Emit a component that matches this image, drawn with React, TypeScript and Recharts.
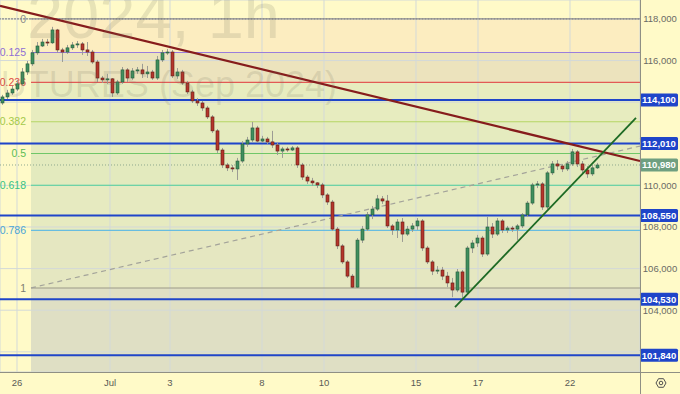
import { Bar, CartesianGrid, ComposedChart, ReferenceArea, ReferenceLine, XAxis, YAxis } from 'recharts';

// hourly bars (one entry per drawn candle)
const opens = [
    113960, 114250, 114440, 114630, 114880, 115450, 115840, 116370, 116700, 116890,
    116850, 117470, 116510, 116410, 116610, 116750, 116800, 116510, 116410, 115930,
    115160, 115070, 115120, 114440, 114970, 115550, 115160, 115500, 115550, 115360,
    115450, 115160, 116030, 116370, 116410, 115260, 115450, 114920, 114490, 114060,
    113960, 113720, 113290, 112620, 111700, 110980, 110840, 110790, 111170, 111990,
    112180, 112760, 112130, 112230, 112090, 111940, 111650, 111750, 111700, 111800,
    110980, 110400, 110210, 110120, 110020, 109540, 109200, 107900, 107090, 106320,
    105640, 105110, 107370, 107900, 108580, 108860, 109350, 109250, 108050, 107860,
    108240, 107660, 107900, 108050, 108290, 106990, 106320, 105880, 105930, 105640,
    105310, 104970, 105840, 104870, 106990, 107230, 107470, 106700, 108000, 107660,
    108290, 107860, 107950, 107900, 108050, 108580, 109150, 110020, 110070, 108960,
    110600, 111030, 110930, 110790, 111030, 111610, 111030, 110740, 110550, 110840,
];
const highs = [
    114350, 114590, 114780, 115070, 115640, 115980, 116510, 116890, 117040, 117040,
    117620, 117520, 116610, 116750, 116890, 116940, 116890, 116890, 116510, 116030,
    115260, 115360, 115160, 115070, 115690, 115640, 115640, 115690, 115840, 115740,
    115550, 116220, 116510, 116560, 116510, 115640, 115550, 115020, 114590, 114200,
    114060, 113820, 113380, 112710, 111800, 111080, 110980, 111320, 112130, 112330,
    113050, 112860, 112380, 112330, 112620, 112040, 111850, 111850, 111890, 111890,
    111080, 110500, 110360, 110160, 110120, 109630, 109300, 108000, 107180, 106410,
    105740, 107470, 108050, 108720, 109010, 109540, 109490, 109540, 108140, 108380,
    108430, 108050, 108190, 108430, 108380, 107090, 106410, 106120, 106080, 105840,
    105550, 105980, 105930, 107090, 107370, 107620, 107570, 108480, 108190, 108430,
    108380, 108050, 108050, 108140, 108670, 109250, 110120, 110210, 110160, 110690,
    111170, 111220, 111030, 111170, 111750, 111700, 111170, 110930, 110980, 111080,
];
const lows = [
    113870, 114150, 114350, 114540, 114780, 115310, 115740, 116270, 116650, 116700,
    116800, 116370, 115930, 116320, 116510, 116610, 116270, 116220, 115840, 114970,
    114920, 114880, 114250, 114350, 114880, 114970, 115070, 115360, 115160, 115160,
    115070, 115070, 115930, 116270, 115160, 115120, 114830, 114390, 113960, 113820,
    113580, 113190, 112520, 111560, 110840, 110690, 110640, 110260, 111080, 111850,
    112090, 112040, 112040, 111990, 111800, 111460, 111320, 111610, 111650, 110840,
    110260, 110070, 109970, 109870, 109390, 109060, 107810, 106940, 106220, 105550,
    105070, 105070, 107230, 107810, 108380, 108770, 109110, 107950, 107620, 107470,
    107280, 107570, 107760, 107860, 106850, 106220, 105690, 105740, 105450, 105110,
    104630, 104870, 104590, 104780, 106750, 107040, 106560, 106610, 107470, 107570,
    107710, 107710, 107760, 107370, 107950, 108480, 109060, 109870, 108820, 108860,
    110500, 110740, 110640, 110690, 110930, 110880, 110550, 110360, 110450, 110790,
];
const closes = [
    114250, 114440, 114630, 114880, 115450, 115840, 116370, 116700, 116890, 116850,
    117470, 116510, 116410, 116610, 116750, 116800, 116510, 116410, 115930, 115160,
    115070, 115120, 114440, 114970, 115550, 115160, 115500, 115550, 115360, 115450,
    115160, 116030, 116370, 116410, 115260, 115450, 114920, 114490, 114060, 113960,
    113720, 113290, 112620, 111700, 110980, 110840, 110790, 111170, 111990, 112180,
    112760, 112130, 112230, 112090, 111940, 111650, 111750, 111700, 111800, 110980,
    110400, 110210, 110120, 110020, 109540, 109200, 107900, 107090, 106320, 105640,
    105110, 107370, 107900, 108580, 108860, 109350, 109250, 108050, 107860, 108240,
    107660, 107900, 108050, 108290, 106990, 106320, 105880, 105930, 105640, 105310,
    104970, 105840, 104870, 106990, 107230, 107470, 106700, 108000, 107660, 108290,
    107860, 107950, 107900, 108050, 108580, 109150, 110020, 110070, 108960, 110600,
    111030, 110930, 110790, 111030, 111610, 111030, 110740, 110550, 110840, 110980,
];

const dayLabels = ['26', 'Jul', '3', '8', '10', '15', '17', '22'];
const dayTickBars = [2.9, 21.5, 33.5, 51.9, 64.3, 82.7, 95.1, 113.5];

const priceTicks = [102000, 104000, 106000, 108000, 110000, 112000, 114000, 116000, 118000];

// fib retracement anchors
const fibTop = 118000;
const fibBottom = 105070;
const fibStartBar = 5.7;
const fibRatios = [0, 0.125, 0.236, 0.382, 0.5, 0.618, 0.786, 1];
const fibLabels = ['0', '0.125', '0.236', '0.382', '0.5', '0.618', '0.786', '1'];

const keyLevels = [114100, 112010, 108550, 104530, 101840];
const lastPrice = 110980;

const resistanceLine = [{ x: -0.5, y: 118625 }, { x: 127.5, y: 111173 }];
const supportLine = [{ x: 90.5, y: 104150 }, { x: 126.7, y: 113240 }];
const fibTrendLine = [{ x: fibStartBar, y: fibBottom }, { x: 127.5, y: 111890 }];

const X_DOMAIN = [-0.5, 127.5];
const Y_DOMAIN = [101030, 118910];

const fibLineColors = ['#8c8c8c', '#9a7ddc', '#e25a55', '#b4d565', '#70c768', '#4dcf97', '#68bde0', '#9b9a88'];
const fibTextColors = ['#8c8c8c', '#8f6fd4', '#de4b47', '#a3c94a', '#5cbd55', '#36c385', '#4aa5d6', '#7d7d70'];
const fibBandColors = ['#fcedc0', '#ece3bd', '#e7ecbf', '#e5ebbf', '#e3eabe', '#e6eac0', '#e5e7c1', '#dfdfc4'];

const FONT = '"Liberation Sans", Arial, sans-serif';

const candles = opens.map((o, i) => ({
    i,
    o,
    h: highs[i],
    l: lows[i],
    c: closes[i],
    range: [lows[i], highs[i]],
}));

const fibPrices = fibRatios.map((r) => fibTop - r * (fibTop - fibBottom));

// axis price labels that sit under a tag are hidden, like the terminal does
const taggedPrices = [...keyLevels, lastPrice];
const isCovered = (v: number) => taggedPrices.some((p) => Math.abs(p - v) < 400);

const Candle = (props: any) => {
    const { x, y, width, height, payload } = props;
    const { o, h, l, c } = payload;
    const top = Math.min(y, y + height);
    const bottom = Math.max(y, y + height);
    const ppu = h === l ? 0 : (bottom - top) / (h - l);
    const bodyTop = top + (h - Math.max(o, c)) * ppu;
    const bodyBottom = top + (h - Math.min(o, c)) * ppu;
    const cx = x + width / 2;
    const up = c >= o;
    return (
        <g>
            <line x1={cx} x2={cx} y1={top} y2={bottom} stroke="#9c9c94" strokeWidth={1} />
            <rect
                x={x}
                y={bodyTop}
                width={width}
                height={Math.max(1, bodyBottom - bodyTop)}
                fill={up ? '#3f8f5e' : '#b5352b'}
                stroke={up ? '#245a3a' : '#5e1c15'}
                strokeWidth={0.6}
            />
        </g>
    );
};

const PriceTag = (props: any) => {
    const { viewBox, text, fill } = props;
    if (!viewBox) return null;
    const x0 = viewBox.x + viewBox.width;
    const yy = viewBox.y;
    return (
        <g>
            <rect x={x0} y={yy - 6.5} width={38} height={13} rx={1.5} fill={fill} />
            <text x={x0 + 19} y={yy + 3.4} textAnchor="middle" fill="#ffffff" fontSize={9.5} fontWeight={700} fontFamily={FONT}>
                {text}
            </text>
        </g>
    );
};

const FibTag = (props: any) => {
    const { viewBox, text, color } = props;
    if (!viewBox) return null;
    return (
        <text x={viewBox.x - 5} y={viewBox.y + 3.7} textAnchor="end" fill={color} fontSize={10.5} fontFamily={FONT}>
            {text}
        </text>
    );
};

const PriceTick = (props: any) => {
    const { y, payload } = props;
    if (isCovered(payload.value)) return null;
    return (
        <text x={660} y={y + 3.3} textAnchor="middle" fill="#6a6a66" fontSize={9.5} fontFamily={FONT}>
            {payload.value.toLocaleString('en-US')}
        </text>
    );
};

export default function App() {
    const bands = fibPrices.map((p, k) => ({
        y1: k + 1 < fibPrices.length ? fibPrices[k + 1] : Y_DOMAIN[0],
        y2: p,
        color: fibBandColors[k],
    }));

    return (
        <div style={{ position: 'absolute', left: 0, top: 0, width: 680, height: 394, background: '#fffac8', overflow: 'hidden' }}>
            <ComposedChart width={680} height={394} data={candles} margin={{ top: 0, right: 0, bottom: 0, left: 0 }}>
                {bands.map((b, k) => (
                    <ReferenceArea
                        key={`band-${k}`}
                        x1={fibStartBar}
                        x2={X_DOMAIN[1]}
                        y1={b.y1}
                        y2={b.y2}
                        fill={b.color}
                        fillOpacity={1}
                        stroke="none"
                        ifOverflow="hidden"
                    />
                ))}
                <CartesianGrid stroke="#d3d9d8" strokeWidth={1} zIndex={150} />
                <XAxis
                    dataKey="i"
                    type="number"
                    domain={X_DOMAIN}
                    allowDataOverflow
                    ticks={dayTickBars}
                    interval={0}
                    tickFormatter={(v: number) => dayLabels[dayTickBars.indexOf(v)] ?? ''}
                    height={22}
                    axisLine={false}
                    tickLine={false}
                    tickSize={0}
                    tickMargin={7}
                    tick={{ fontSize: 9.5, fill: '#5a5a56', fontFamily: FONT }}
                />
                <YAxis
                    orientation="right"
                    width={40}
                    domain={Y_DOMAIN}
                    allowDataOverflow
                    ticks={priceTicks}
                    interval={0}
                    axisLine={false}
                    tickLine={false}
                    tick={<PriceTick />}
                />
                {fibPrices.map((p, k) => (
                    <ReferenceLine
                        key={`fib-${k}`}
                        segment={[{ x: fibStartBar, y: p }, { x: X_DOMAIN[1], y: p }]}
                        stroke={fibLineColors[k]}
                        strokeWidth={k === 0 ? 1.2 : 1.1}
                        strokeDasharray={k === 0 ? '2 1' : undefined}
                        zIndex={200}
                        label={<FibTag text={fibLabels[k]} color={fibTextColors[k]} />}
                    />
                ))}
                <ReferenceLine y={fibTop} stroke="#8c8c8c" strokeDasharray="2 1" strokeWidth={1.2} zIndex={200} />
                <ReferenceLine
                    y={lastPrice}
                    stroke="#8fa88f"
                    strokeDasharray="1 2"
                    strokeWidth={1}
                    zIndex={210}
                    label={<PriceTag text={lastPrice.toLocaleString('en-US')} fill="#6f9f80" />}
                />
                {keyLevels.map((lv) => (
                    <ReferenceLine
                        key={`lv-${lv}`}
                        y={lv}
                        stroke="#1f45c9"
                        strokeWidth={2}
                        zIndex={250}
                        label={<PriceTag text={lv.toLocaleString('en-US')} fill="#1f45c9" />}
                    />
                ))}
                <ReferenceLine segment={fibTrendLine} stroke="#a3a39a" strokeWidth={1.2} strokeDasharray="5 4" zIndex={260} />
                <Bar dataKey="range" barSize={3} shape={<Candle />} isAnimationActive={false} />
                <ReferenceLine segment={resistanceLine} stroke="#861c1c" strokeWidth={2.2} zIndex={400} ifOverflow="visible" />
                <ReferenceLine segment={supportLine} stroke="#1d6a24" strokeWidth={1.8} zIndex={400} ifOverflow="visible" />
            </ComposedChart>
            <svg width={680} height={394} style={{ position: 'absolute', left: 0, top: 0, pointerEvents: 'none' }}>
                <g fill="#6f6f5c" fillOpacity={0.17} fontFamily={FONT}>
                    <text x={280} y={38} textAnchor="end" fontSize={65}>2024, 1h</text>
                    <text x={337} y={97} textAnchor="end" fontSize={36}>FUTURES (Sep 2024)</text>
                </g>
                <line x1={0} x2={680} y1={372.5} y2={372.5} stroke="#8f8f84" strokeWidth={1} />
                <line x1={640.5} x2={640.5} y1={0} y2={394} stroke="#8f8f84" strokeWidth={1} />
                <g transform="translate(661,383)" fill="none" stroke="#505050" strokeWidth={1}>
                    <polygon points="5,0 2.5,4.3 -2.5,4.3 -5,0 -2.5,-4.3 2.5,-4.3" />
                    <circle r={1.8} />
                </g>
            </svg>
        </div>
    );
}
